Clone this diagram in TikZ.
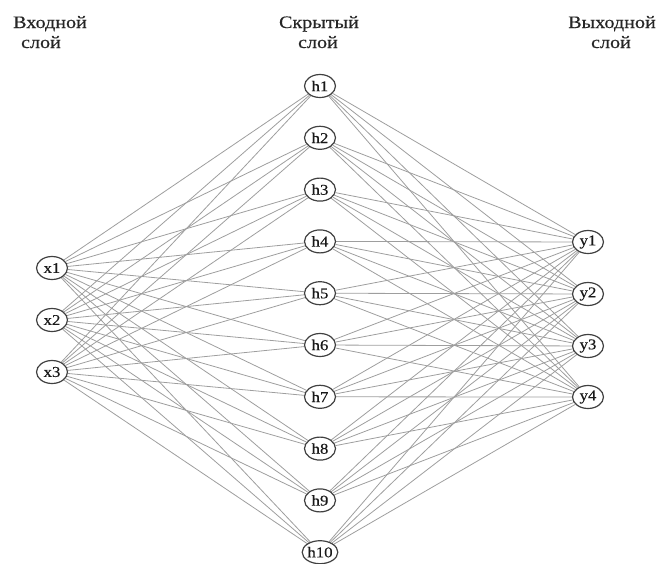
\documentclass[tikz,border=0pt]{standalone}
\usepackage{fontspec}
\setmainfont{Liberation Serif}
\newfontfamily\widefont[FakeStretch=1.15,FakeBold=0.4]{Liberation Serif}
\newfontfamily\nodefont[FakeStretch=1.12,FakeBold=0.3]{Liberation Serif}
\usetikzlibrary{shapes.geometric,backgrounds}
\begin{document}
\begin{tikzpicture}[x=1pt,y=-1pt,
  neuron/.style={ellipse,draw=black!75,line width=1.2pt,fill=white,minimum width=31pt,minimum height=23pt,inner sep=0pt,text=black!90,font=\nodefont\fontsize{15}{15}\selectfont},
  conn/.style={draw=black!38,line width=0.8pt},
  title/.style={anchor=base,inner sep=0pt,text=black!85,font=\widefont\fontsize{17.5}{20}\selectfont}]
\useasboundingbox (0,0) rectangle (662,563);
% titles
\node[title] (tin1) at (50,28) {Входной};
\node[title] (tin2) at (41,48) {слой};
\node[title] (thid1) at (319,28) {Скрытый};
\node[title] (thid2) at (318,48) {слой};
\node[title] (tout1) at (612,28) {Выходной};
\node[title] (tout2) at (611,48) {слой};
% input
\node[neuron] (x1) at (52,268) {x1};
\node[neuron] (x2) at (52,320) {x2};
\node[neuron] (x3) at (52,372) {x3};
% hidden
\foreach \j [evaluate=\j as \yy using {86+(\j-1)*51.8}] in {1,...,10}
  \node[neuron] (h\j) at (320,\yy) {h\j};
% output
\node[neuron] (y1) at (588,242) {y1};
\node[neuron] (y2) at (588,294) {y2};
\node[neuron] (y3) at (588,346) {y3};
\node[neuron] (y4) at (588,397) {y4};
\begin{pgfonlayer}{background}
\foreach \i in {1,2,3}
  \foreach \j in {1,...,10}
    \draw[conn] (x\i) -- (h\j);
\foreach \j in {1,...,10}
  \foreach \k in {1,...,4}
    \draw[conn] (h\j) -- (y\k);
\end{pgfonlayer}
\end{tikzpicture}
\end{document}
